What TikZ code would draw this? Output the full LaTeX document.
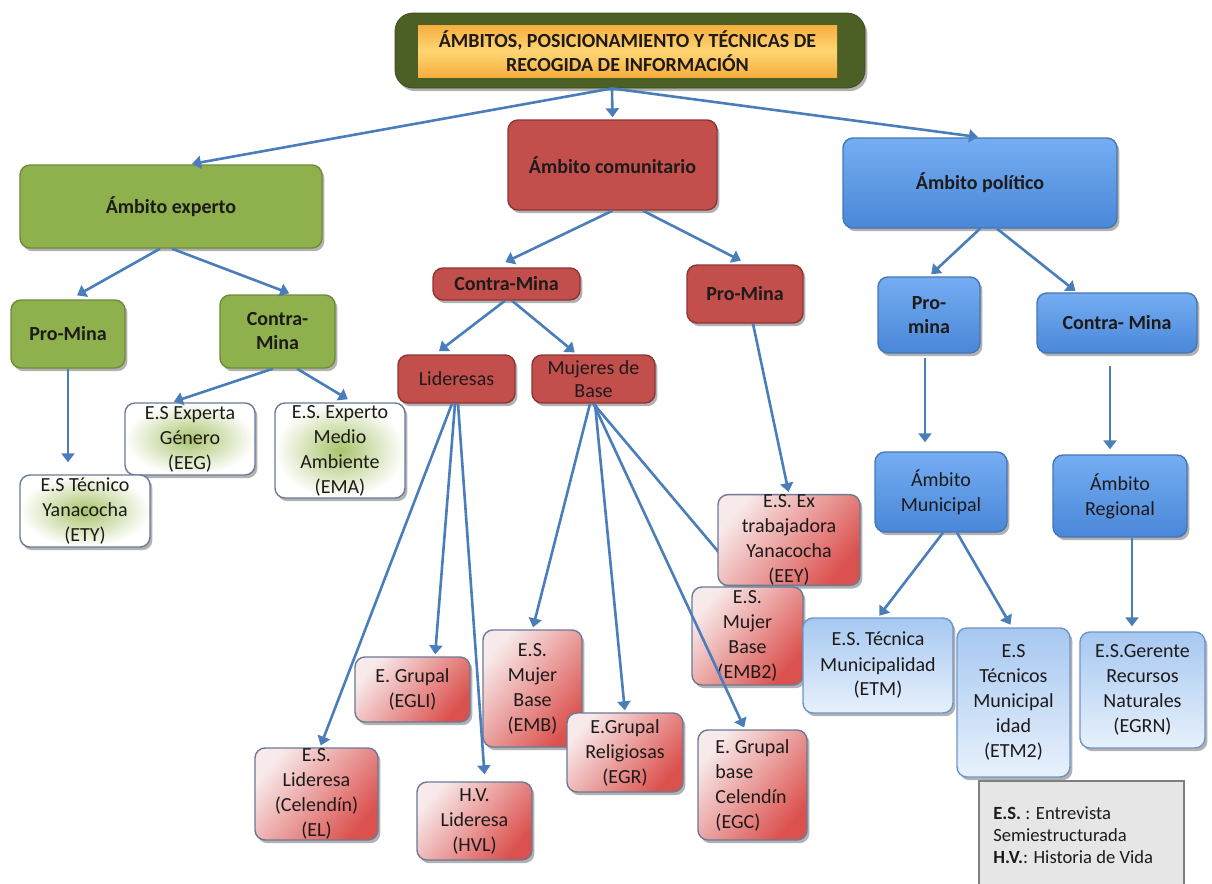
\documentclass[tikz,border=0pt]{standalone}
\usepackage{fontspec}
\setmainfont{Carlito}
\usetikzlibrary{arrows.meta,shadows,backgrounds}
\definecolor{arrowblue}{HTML}{4A7EBB}
\definecolor{gfill}{HTML}{8EB14E}
\definecolor{gdraw}{HTML}{6E8B3A}
\definecolor{rfill}{HTML}{C24F4C}
\definecolor{rdraw}{HTML}{8E3533}
\definecolor{btop}{HTML}{74ADF2}
\definecolor{bbot}{HTML}{4A87D8}
\definecolor{bdraw}{HTML}{4676B4}
\definecolor{lbtop}{HTML}{A6C8F1}
\definecolor{lbbot}{HTML}{E8F1FC}
\definecolor{lbdraw}{HTML}{6F95C6}
\definecolor{pinkA}{HTML}{F8EAEA}
\definecolor{pinkB}{HTML}{DB514E}
\definecolor{leafdraw}{HTML}{6B7A96}
\definecolor{lgin}{HTML}{A9C46C}
\definecolor{olivebox}{HTML}{4C5F25}
\definecolor{tyel}{HTML}{FFD673}
\definecolor{torange}{HTML}{F5AE3E}
\definecolor{txt}{HTML}{1E1A1A}
\definecolor{legfill}{HTML}{E6E6E6}
\definecolor{legdraw}{HTML}{7F7F7F}

\tikzset{
 shd/.style={drop shadow={shadow xshift=1.2pt,shadow yshift=-1.6pt,opacity=0.3,fill=black}},
 basebox/.style={rounded corners=5pt, inner xsep=1pt, inner ysep=0pt, align=center, text=txt, line width=0.7pt, shd},
 gbox/.style={basebox, fill=gfill, draw=gdraw, font=\bfseries\fontsize{10}{12}\selectfont},
 rbox/.style={basebox, fill=rfill, draw=rdraw, font=\bfseries\fontsize{10}{12}\selectfont},
 rboxn/.style={rbox, font=\fontsize{10}{11.5}\selectfont},
 bbox/.style={basebox, top color=btop, bottom color=bbot, draw=bdraw, font=\bfseries\fontsize{10}{12}\selectfont},
 bboxn/.style={bbox, font=\fontsize{10}{12.5}\selectfont},
 leaf/.style={basebox, font=\fontsize{10}{12.5}\selectfont, draw=leafdraw},
 pleaf/.style={leaf, top color=pinkA, bottom color=pinkB, shading angle=50},
 gleaf/.style={leaf, inner color=lgin, outer color=white},
 bleaf/.style={leaf, top color=lbtop, bottom color=lbbot, draw=lbdraw},
 arr/.style={draw=arrowblue, line width=1.3pt, -{Triangle[length=4.5pt,width=6.5pt]}, shorten >=1pt},
}

\newcommand{\boxat}[7]{\node[#6, minimum width={(#4-#2)*0.5pt}, minimum height={(#5-#3)*0.5pt}] (#1) at ({(#2+#4)/2},{(#3+#5)/2}) {#7};}

\begin{document}
\begin{tikzpicture}[x=0.5pt,y=-0.5pt]
\useasboundingbox (0,0) rectangle (1212,884);
\clip (0,0) rectangle (1212,884);

% title
\node[rounded corners=9pt, fill=olivebox, draw=olivebox!80!black, minimum width=235pt, minimum height=37.5pt, shd] (title) at (630,50.5) {};
\node[top color=torange, bottom color=torange, middle color=tyel, minimum width=209.5pt, minimum height=26pt, inner sep=0pt, align=center, font=\bfseries\fontsize{10}{12}\selectfont, text=txt] (titlein) at (627.5,51) {ÁMBITOS, POSICIONAMIENTO Y TÉCNICAS DE\\RECOGIDA DE INFORMACIÓN};

% level 1
\boxat{exp}{20}{165}{322}{248}{gbox}{Ámbito experto}
\boxat{comm}{508}{120}{717}{210}{rbox}{Ámbito comunitario}
\boxat{pol}{843}{138}{1117}{228}{bbox}{Ámbito político}

% level 2
\boxat{gpro}{11}{300}{125}{368}{gbox}{Pro-Mina}
\boxat{gcon}{220}{295}{335}{368}{gbox}{Contra-\\Mina}
\boxat{rcon}{433}{268}{580}{300}{rbox}{Contra-Mina}
\boxat{rpro}{687}{265}{803}{323}{rbox}{Pro-Mina}
\boxat{bpro}{878}{277}{980}{353}{bbox}{Pro-\\mina}
\boxat{bcon}{1037}{293}{1197}{353}{bbox}{Contra- Mina}

% level 3
\boxat{lid}{398}{355}{515}{403}{rboxn}{Lideresas}
\boxat{muj}{532}{355}{655}{403}{rboxn}{Mujeres de\\Base}
\boxat{mun}{875}{452}{1007}{532}{bboxn}{Ámbito\\Municipal}
\boxat{reg}{1053}{455}{1187}{537}{bboxn}{Ámbito\\Regional}

% leaves
\boxat{eeg}{125}{403}{255}{475}{gleaf}{E.S Experta\\Género\\(EEG)}
\boxat{ema}{275}{403}{405}{498}{gleaf}{E.S. Experto\\Medio\\Ambiente\\(EMA)}
\boxat{ety}{20}{475}{150}{547}{gleaf}{E.S Técnico\\Yanacocha\\(ETY)}
\boxat{eey}{718}{495}{860}{585}{pleaf}{E.S. Ex\\trabajadora\\Yanacocha\\(EEY)}
\boxat{emb2}{692}{587}{803}{685}{pleaf}{E.S.\\Mujer\\Base\\(EMB2)}
\boxat{egli}{355}{657}{470}{722}{pleaf}{E. Grupal\\(EGLI)}
\boxat{emb}{483}{630}{582}{747}{pleaf}{E.S.\\Mujer\\Base\\(EMB)}
\boxat{egr}{567}{713}{683}{792}{pleaf}{E.Grupal\\Religiosas\\(EGR)}
\boxat{el}{255}{748}{378}{840}{pleaf}{E.S.\\Lideresa\\(Celendín)\\(EL)}
\boxat{hvl}{417}{782}{532}{860}{pleaf}{H.V.\\Lideresa\\(HVL)}
\boxat{egc}{698}{730}{807}{840}{pleaf, align=left}{E. Grupal\\base\\Celendín\\(EGC)}
\boxat{etm}{803}{618}{953}{713}{bleaf}{E.S. Técnica\\Municipalidad\\(ETM)}
\boxat{etm2}{957}{628}{1070}{777}{bleaf}{E.S\\Técnicos\\Municipal\\idad\\(ETM2)}
\boxat{egrn}{1080}{632}{1205}{748}{bleaf}{E.S.Gerente\\Recursos\\Naturales\\(EGRN)}

% legend
\node[draw=legdraw, fill=legfill, line width=0.8pt, minimum width=102.5pt, minimum height=62pt, anchor=north west, inner sep=0pt] (legend) at (978,780) {};
\node[anchor=north west, inner sep=0pt, align=left, font=\fontsize{9.3}{11}\selectfont, text=txt] (legtext) at (993,806) {\textbf{E.S.} : Entrevista\\Semiestructurada\\\textbf{H.V.}: Historia de Vida};

% connectors
\draw[arr] ([xshift=-9pt]title.south) -- ([xshift=9.5pt]exp.north);
\draw[arr] ([xshift=-9pt]title.south) -- (comm.north);
\draw[arr] ([xshift=-9pt]title.south) -- (pol.north);

\draw[arr,shorten >=4pt] ([xshift=-5.5pt]exp.south) -- ([xshift=1pt]gpro.north);
\draw[arr,shorten >=1.5pt] ([xshift=0.5pt]exp.south) -- ([xshift=7.25pt]gcon.north);
\draw[arr,shorten >=6pt] (gpro.south) -- ([xshift=-8.5pt]ety.north);
\draw[arr] ([xshift=-2.25pt]gcon.south) -- ([xshift=-9pt]eeg.north);
\draw[arr,shorten >=3pt] ([xshift=9.75pt]gcon.south) -- ([xshift=6.5pt]ema.north);

\draw[arr,shorten >=6pt] (comm.south) -- ([xshift=-6pt]rcon.north);
\draw[arr,shorten >=4pt] ([xshift=15.25pt]comm.south) -- ([xshift=1.5pt]rpro.north);
\draw[arr,shorten >=2.5pt] ([xshift=-0.75pt]rcon.south) -- ([xshift=-10.75pt]lid.north);
\draw[arr,shorten >=1.5pt] ([xshift=2.75pt]rcon.south) -- ([xshift=-8.25pt]muj.north);
\draw[arr] ([xshift=4pt]rpro.south) -- (eey.north);

\draw[arr] ([xshift=-2.25pt]lid.south) -- ([xshift=1.75pt]el.north);
\draw[arr] ([xshift=-0.75pt]lid.south) -- ([xshift=11.25pt]egli.north);
\draw[arr,shorten >=3.5pt] ([xshift=0.75pt]lid.south) -- ([xshift=5.25pt]hvl.north);
\draw[arr] ([xshift=-1.75pt]muj.south) -- (emb.north);
\draw[arr] ([xshift=0.75pt]muj.south) -- (egr.north);
\draw[arr] (muj.south) -- ([xshift=-3.75pt]egc.north);

\draw[arr,shorten >=1.5pt] (pol.south) -- (bpro.north);
\draw[arr] ([xshift=8.5pt]pol.south) -- ([xshift=-20pt]bcon.north);
\draw[arr,shorten <=2pt,shorten >=4.5pt] ([xshift=-2pt]bpro.south) -- ([xshift=-8pt]mun.north);
\draw[arr,shorten <=6pt,shorten >=2.5pt] ([xshift=-3.5pt]bcon.south) -- ([xshift=-5pt]reg.north);
\draw[arr,shorten >=2.5pt] ([xshift=6pt]reg.south) -- ([xshift=-5.25pt]egrn.north);
\draw[arr] ([xshift=1pt]mun.south) -- (etm.north);
\draw[arr,shorten >=1.5pt] ([xshift=8pt]mun.south) -- ([xshift=-0.75pt]etm2.north);

\begin{pgfonlayer}{background}
\fill[white] (0,0) rectangle (1212,884);
\draw[arr] (muj.south) -- (emb2.north);
\end{pgfonlayer}
\end{tikzpicture}
\end{document}
